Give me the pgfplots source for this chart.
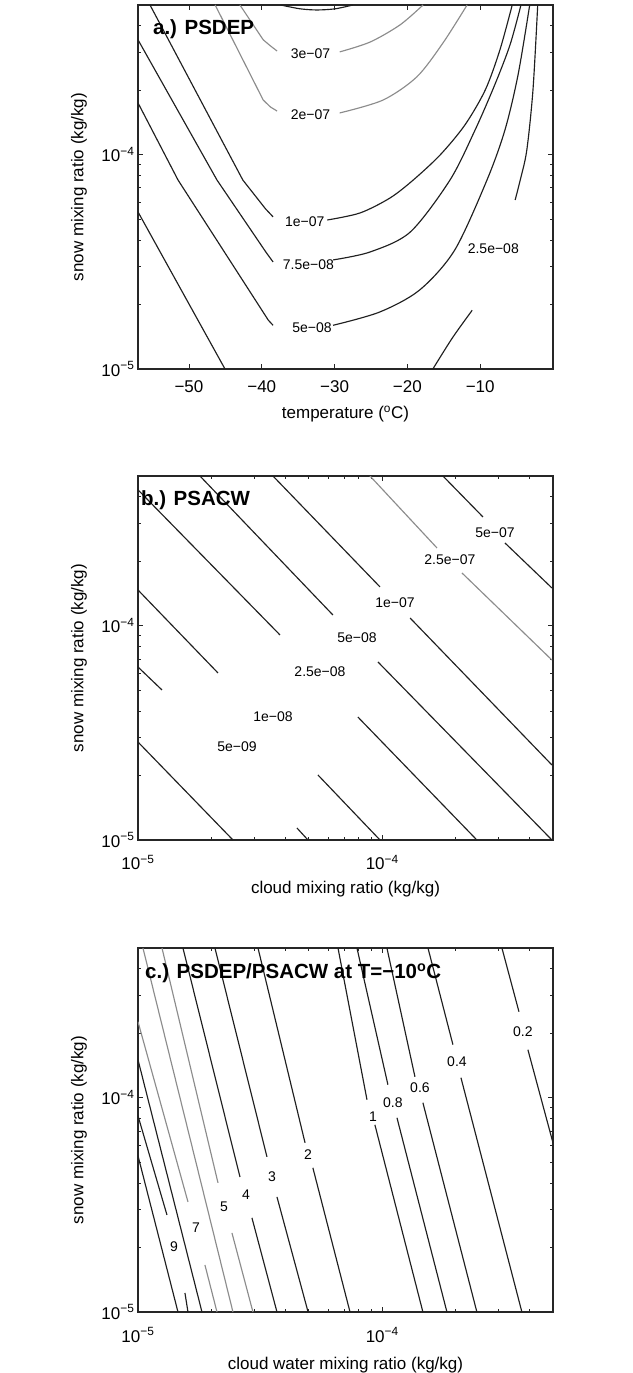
\documentclass[border=0pt]{standalone}
\usepackage{fontspec}
\setmainfont{Liberation Sans}
\usepackage{pgfplots}
\pgfplotsset{compat=1.18}
\definecolor{cdark}{gray}{0.12}
\definecolor{cgray}{gray}{0.55}

\tikzset{
  cdk/.style={cdark, line width=1.15pt},
  cgy/.style={cgray, line width=1.15pt},
  clab/.style={font=\fontsize{14}{16}\selectfont, inner sep=0pt},
  ptitle/.style={font=\bfseries\fontsize{20.5}{24}\selectfont, anchor=base west, inner sep=0pt},
}
\pgfplotsset{
  tick align=inside, major tick length=5pt, minor tick length=3pt,
  every axis/.append style={
    axis line style={line width=1.3pt, black!85},
    tick label style={font=\fontsize{17}{20}\selectfont},
    label style={font=\fontsize{17}{20}\selectfont},
  },
  every tick/.style={black!85, line width=0.9pt},
}

\begin{document}
\begin{tikzpicture}
\useasboundingbox (0pt,0pt) rectangle (632pt,1373pt);

% a.) PSDEP
\begin{axis}[at={(138pt,1004pt)}, anchor=south west,
  scale only axis, width=415pt, height=364pt,
  ymode=log, ymin=1e-5, ymax=5e-4,
  ytick={1e-5,1e-4}, yticklabels={10\textsuperscript{−5},10\textsuperscript{−4}},
  minor ytick={2e-5,3e-5,4e-5,5e-5,6e-5,7e-5,8e-5,9e-5,2e-4,3e-4,4e-4},
  xmin=-57, xmax=0,
  xtick={-50,-40,-30,-20,-10}, xticklabels={−50,−40,−30,−20,−10},
  xticklabel style={yshift=-8pt},
  xlabel={temperature (\textsuperscript{o}C)},
  xlabel style={at={(axis description cs:0.5,-0.137)}, anchor=base},
  ylabel={snow mixing ratio (kg/kg)},
  ylabel style={at={(axis description cs:-0.142,0.5)}, anchor=center},
]
\addplot[cdk, smooth] coordinates {(-37.4,5e-4) (-34.75,4.8e-4) (-32.4,4.74e-4) (-29.9,4.8e-4) (-27.5,5e-4)};
% 3e-07
\addplot[cgy] coordinates {(-43.0,5e-4) (-39.8,3.44e-4) (-38.8,3.22e-4) (-37.9,3.05e-4)};
\addplot[cgy, smooth] coordinates {(-29.3,3.02e-4) (-25.1,3.36e-4) (-21.0,4.04e-4) (-17.85,5e-4)};
% 2e-07
\addplot[cgy] coordinates {(-46.4,5e-4) (-39.8,1.80e-4) (-38.8,1.67e-4) (-37.9,1.6e-4)};
\addplot[cgy, smooth] coordinates {(-29.3,1.567e-4) (-23.35,1.80e-4) (-18.7,2.31e-4) (-15.1,3.33e-4) (-11.8,5e-4)};
% 1e-07
\addplot[cdk] coordinates {(-55.35,5e-4) (-42.6,7.62e-5) (-39.5,5.6e-5) (-38.45,5.13e-5)};
\addplot[cdk, smooth] coordinates {(-31.0,4.96e-5) (-26.5,5.35e-5) (-22.4,6.28e-5) (-19.2,7.62e-5) (-15.5,9.98e-5) (-12.1,1.377e-4) (-9.3,2.007e-4) (-7.3,3.08e-4) (-5.6,5e-4)};
% 7.5e-08
\addplot[cdk] coordinates {(-57,3.44e-4) (-46.15,7.62e-5) (-39.4,3.5e-5) (-38.45,3.16e-5)};
\addplot[cdk, smooth] coordinates {(-30.2,3.23e-5) (-25.1,3.52e-5) (-19.6,4.36e-5) (-14.15,7.62e-5) (-10.7,1.305e-4) (-8.0,2.12e-4) (-5.9,3.26e-4) (-4.4,5e-4)};
% 5e-08
\addplot[cdk] coordinates {(-57,1.746e-4) (-51.5,7.62e-5) (-39.1,1.69e-5) (-38.45,1.60e-5)};
\addplot[cdk, smooth] coordinates {(-30.2,1.60e-5) (-23.8,1.845e-5) (-18.3,2.34e-5) (-13.5,3.59e-5) (-9.07,7.62e-5) (-6.6,1.305e-4) (-4.8,2.36e-4) (-3.2,5e-4)};
% 2.5e-08
\addplot[cdk] coordinates {(-57,5.41e-5) (-45.05,1e-5)};
\addplot[cdk, smooth] coordinates {(-16.5,1e-5) (-13.8,1.4e-5) (-11.1,1.88e-5)};
\addplot[cdk, smooth] coordinates {(-5.2,6.15e-5) (-4.5,7.62e-5) (-3.6,1.05e-4) (-2.75,2.007e-4) (-2.1,5e-4)};
\node[clab] at (axis cs:-33.3,2.955e-4) {3e−07};
\node[clab] at (axis cs:-33.3,1.535e-4) {2e−07};
\node[clab] at (axis cs:-34.1,4.87e-5) {1e−07};
\node[clab] at (axis cs:-33.6,3.06e-5) {7.5e−08};
\node[clab] at (axis cs:-33.1,1.554e-5) {5e−08};
\node[clab] at (axis cs:-8.2,3.66e-5) {2.5e−08};
\node[ptitle] at (rel axis cs:0.036,0.918) {a.) PSDEP};
\end{axis}

% b.) PSACW
\begin{axis}[at={(138pt,533pt)}, anchor=south west,
  scale only axis, width=415pt, height=364pt,
  ymode=log, ymin=1e-5, ymax=5e-4,
  ytick={1e-5,1e-4}, yticklabels={10\textsuperscript{−5},10\textsuperscript{−4}},
  minor ytick={2e-5,3e-5,4e-5,5e-5,6e-5,7e-5,8e-5,9e-5,2e-4,3e-4,4e-4},
  xmode=log, xmin=1e-5, xmax=5e-4,
  xtick={1e-5,1e-4}, xticklabels={10\textsuperscript{−5},10\textsuperscript{−4}},
  minor xtick={2e-5,3e-5,4e-5,5e-5,6e-5,7e-5,8e-5,9e-5,2e-4,3e-4,4e-4},
  xticklabel style={yshift=-12pt},
  xlabel={cloud mixing ratio (kg/kg)},
  xlabel style={at={(axis description cs:0.5,-0.148)}, anchor=base},
  ylabel={snow mixing ratio (kg/kg)},
  ylabel style={at={(axis description cs:-0.142,0.5)}, anchor=center},
]
% 2.5e-08
\addplot[cdk] coordinates {(1e-5,4.31e-4) (3.814e-5,9.06e-5)};
\addplot[cdk] coordinates {(7.95e-5,3.75e-5) (2.44e-4,1e-5)};
% 5e-08
\addplot[cdk] coordinates {(1.794e-5,5e-4) (6.28e-5,1.123e-4)};
\addplot[cdk] coordinates {(9.60e-5,6.78e-5) (4.95e-4,1e-5)};
% 1e-07
\addplot[cdk] coordinates {(3.57e-5,5e-4) (9.79e-5,1.518e-4)};
\addplot[cdk] coordinates {(1.30e-4,1.087e-4) (4.95e-4,2.24e-5)};
% 2.5e-07
\addplot[cgy] coordinates {(8.91e-5,5e-4) (1.675e-4,2.308e-4)};
\addplot[cgy] coordinates {(2.12e-4,1.764e-4) (4.95e-4,6.92e-5)};
% 5e-07
\addplot[cdk] coordinates {(1.772e-4,5e-4) (2.584e-4,3.22e-4)};
\addplot[cdk] coordinates {(3.179e-4,2.435e-4) (4.95e-4,1.501e-4)};
% 1e-08
\addplot[cdk] coordinates {(1e-5,1.469e-4) (2.126e-5,6.02e-5)};
\addplot[cdk] coordinates {(5.455e-5,2.011e-5) (9.79e-5,1e-5)};
% 5e-09
\addplot[cdk] coordinates {(1e-5,6.42e-5) (1.254e-5,5.015e-5)};
\addplot[cdk] coordinates {(4.475e-5,1.138e-5) (4.965e-5,1e-5)};
% 2.5e-09
\addplot[cdk] coordinates {(1e-5,2.867e-5) (2.448e-5,1e-5)};
\node[clab] at (axis cs:2.893e-4,2.713e-4) {5e−07};
\node[clab] at (axis cs:1.893e-4,2.03e-4) {2.5e−07};
\node[clab] at (axis cs:1.127e-4,1.278e-4) {1e−07};
\node[clab] at (axis cs:7.88e-5,8.77e-5) {5e−08};
\node[clab] at (axis cs:5.56e-5,6.09e-5) {2.5e−08};
\node[clab] at (axis cs:3.57e-5,3.75e-5) {1e−08};
\node[clab] at (axis cs:2.542e-5,2.718e-5) {5e−09};
\node[ptitle] at (rel axis cs:0.007,0.92) {b.) PSACW};
\end{axis}

% c.) PSDEP/PSACW at T=-10C
\begin{axis}[at={(138pt,61pt)}, anchor=south west,
  scale only axis, width=415pt, height=364pt,
  ymode=log, ymin=1e-5, ymax=5e-4,
  ytick={1e-5,1e-4}, yticklabels={10\textsuperscript{−5},10\textsuperscript{−4}},
  minor ytick={2e-5,3e-5,4e-5,5e-5,6e-5,7e-5,8e-5,9e-5,2e-4,3e-4,4e-4},
  xmode=log, xmin=1e-5, xmax=5e-4,
  xtick={1e-5,1e-4}, xticklabels={10\textsuperscript{−5},10\textsuperscript{−4}},
  minor xtick={2e-5,3e-5,4e-5,5e-5,6e-5,7e-5,8e-5,9e-5,2e-4,3e-4,4e-4},
  xticklabel style={yshift=-12pt},
  xlabel={cloud water mixing ratio (kg/kg)},
  xlabel style={at={(axis description cs:0.5,-0.159)}, anchor=base},
  ylabel={snow mixing ratio (kg/kg)},
  ylabel style={at={(axis description cs:-0.142,0.5)}, anchor=center},
]
% 0.2
\addplot[cdk] coordinates {(3.09e-4,5e-4) (3.628e-4,2.523e-4)};
\addplot[cdk] coordinates {(3.948e-4,1.676e-4) (5e-4,6.16e-5)};
% 0.4
\addplot[cdk] coordinates {(1.539e-4,5e-4) (1.947e-4,1.769e-4)};
\addplot[cdk] coordinates {(2.10e-4,1.24e-4) (3.73e-4,1e-5)};
% 0.6
\addplot[cdk] coordinates {(1.045e-4,5e-4) (1.361e-4,1.253e-4)};
\addplot[cdk] coordinates {(1.467e-4,9.48e-5) (2.44e-4,1e-5)};
% 0.8
\addplot[cdk] coordinates {(7.88e-5,5e-4) (1.055e-4,1.15e-4)};
\addplot[cdk] coordinates {(1.149e-4,8.06e-5) (1.84e-4,1e-5)};
% 1
\addplot[cdk] coordinates {(6.59e-5,5e-4) (8.66e-5,9.79e-5)};
\addplot[cdk] coordinates {(9.33e-5,7.48e-5) (1.467e-4,1e-5)};
% 2
\addplot[cdk] coordinates {(3.10e-5,5e-4) (4.83e-5,6.16e-5)};
\addplot[cdk] coordinates {(5.20e-5,4.71e-5) (7.38e-5,1e-5)};
% 3
\addplot[cdk] coordinates {(2.066e-5,5e-4) (3.373e-5,5.30e-5)};
\addplot[cdk] coordinates {(3.707e-5,3.446e-5) (4.97e-5,1e-5)};
% 4
\addplot[cdk] coordinates {(1.528e-5,5e-4) (2.615e-5,4.27e-5)};
\addplot[cdk] coordinates {(2.928e-5,2.75e-5) (3.707e-5,1e-5)};
% 5
\addplot[cgy] coordinates {(1.254e-5,5e-4) (2.126e-5,4.007e-5)};
\addplot[cgy] coordinates {(2.425e-5,2.34e-5) (2.956e-5,1e-5)};
% 6
\addplot[cgy] coordinates {(1.048e-5,5e-4) (2.448e-5,1e-5)};
% 7
\addplot[cgy] coordinates {(1e-5,2.265e-4) (1.602e-5,3.266e-5)};
\addplot[cgy] coordinates {(1.880e-5,1.658e-5) (2.106e-5,1e-5)};
% 8
\addplot[cdk] coordinates {(1e-5,1.505e-4) (1.828e-5,1e-5)};
% 9
\addplot[cdk] coordinates {(1e-5,8.24e-5) (1.314e-5,2.84e-5)};
\addplot[cdk] coordinates {(1.557e-5,1.227e-5) (1.602e-5,1e-5)};
% 10
\addplot[cdk] coordinates {(1e-5,5.36e-5) (1.458e-5,1e-5)};
\node[clab] at (axis cs:3.765e-4,2.034e-4) {0.2};
\node[clab] at (axis cs:2.022e-4,1.473e-4) {0.4};
\node[clab] at (axis cs:1.427e-4,1.114e-4) {0.6};
\node[clab] at (axis cs:1.106e-4,9.48e-5) {0.8};
\node[clab] at (axis cs:9.16e-5,8.15e-5) {1};
\node[clab] at (axis cs:4.97e-5,5.42e-5) {2};
\node[clab] at (axis cs:3.535e-5,4.27e-5) {3};
\node[clab] at (axis cs:2.768e-5,3.52e-5) {4};
\node[clab] at (axis cs:2.249e-5,3.095e-5) {5};
\node[clab] at (axis cs:1.727e-5,2.47e-5) {7};
\node[clab] at (axis cs:1.404e-5,2.012e-5) {9};
\node[ptitle] at (rel axis cs:0.017,0.915) {c.) PSDEP/PSACW at T=−10\textsuperscript{o}C};
\end{axis}
\end{tikzpicture}
\end{document}
